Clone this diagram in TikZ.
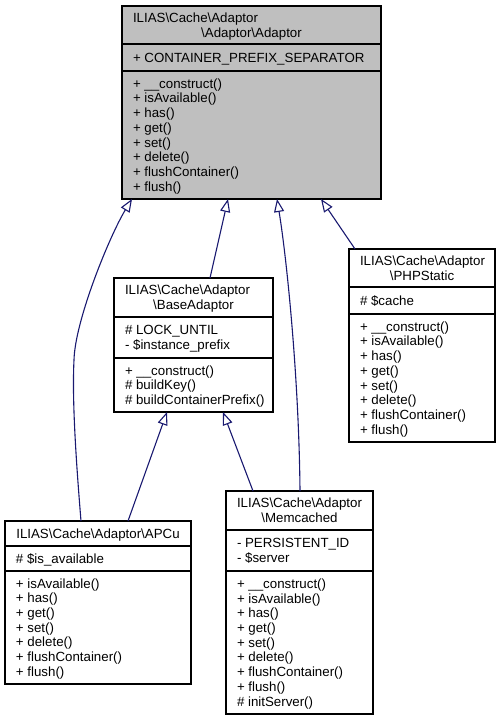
\documentclass[tikz,border=0pt]{standalone}
\usepackage{fontspec}
\setmainfont{Liberation Sans}
\usetikzlibrary{arrows.meta}
\definecolor{edgeblue}{HTML}{191970}
\definecolor{boxgray}{HTML}{BFBFBF}
\newcommand\fs{\fontsize{13.3}{14.7}\selectfont}
\newcommand\bs{\textbackslash}
\newcommand\st{\rule{0pt}{11pt}}
\begin{document}
\begin{tikzpicture}[x=1pt,y=-1pt,
 cls/.style={draw=black, line width=1.2pt, inner sep=0pt, outer sep=0pt, fill=white},
 lbl/.style={font=\fs, inner sep=0pt, outer sep=0pt, anchor=base west},
 ctr/.style={font=\fs, inner sep=0pt, outer sep=0pt, anchor=base},
 sec/.style={font=\fs, inner sep=0pt, outer sep=0pt, anchor=north west, align=left},
 sepline/.style={line width=1.2pt},
 inh/.style={draw=edgeblue, line width=1.1pt, -{Triangle[open, length=13pt, width=10pt, line width=1.1pt]}}
]
\useasboundingbox (0,0) rectangle (501,720);

% Adaptor
\node[cls, fill=boxgray, minimum width=259pt, minimum height=193pt] (ad) at (251.5,102.5) {};
\draw[sepline] (ad.west |- 0,44) -- (ad.east |- 0,44);
\draw[sepline] (ad.west |- 0,71) -- (ad.east |- 0,71);
\node[lbl] (ad-t1) at (133,22.35) {ILIAS\bs Cache\bs Adaptor};
\node[ctr] (ad-t2) at (251.5,37.05) {\bs Adaptor\bs Adaptor};
\node[lbl] (ad-a) at (133,62.2) {+ CONTAINER\_PREFIX\_SEPARATOR};
\node[sec] (ad-m) at (133,77.25) {\st+ \_\_construct()\\+ isAvailable()\\+ has()\\+ get()\\+ set()\\+ delete()\\+ flushContainer()\\+ flush()};

% PHPStatic
\node[cls, minimum width=146pt, minimum height=193pt] (php) at (422,345.5) {};
\draw[sepline] (php.west |- 0,287) -- (php.east |- 0,287);
\draw[sepline] (php.west |- 0,314) -- (php.east |- 0,314);
\node[lbl] (php-t1) at (360,265.35) {ILIAS\bs Cache\bs Adaptor};
\node[ctr] (php-t2) at (422,280.05) {\bs PHPStatic};
\node[lbl] (php-a) at (360,305.2) {\# \$cache};
\node[sec] (php-m) at (360,320.25) {\st+ \_\_construct()\\+ isAvailable()\\+ has()\\+ get()\\+ set()\\+ delete()\\+ flushContainer()\\+ flush()};

% BaseAdaptor
\node[cls, minimum width=159pt, minimum height=134pt] (base) at (193.5,345) {};
\draw[sepline] (base.west |- 0,317) -- (base.east |- 0,317);
\draw[sepline] (base.west |- 0,358) -- (base.east |- 0,358);
\node[lbl] (base-t1) at (125,294.85) {ILIAS\bs Cache\bs Adaptor};
\node[ctr] (base-t2) at (193.5,309.55) {\bs BaseAdaptor};
\node[sec] (base-a) at (125,323.85) {\st\# LOCK\_UNTIL\\- \$instance\_prefix};
\node[sec] (base-m) at (125,364) {\st+ \_\_construct()\\\# buildKey()\\\# buildContainerPrefix()};

% APCu
\node[cls, minimum width=186pt, minimum height=163pt] (apcu) at (98,602.5) {};
\draw[sepline] (apcu.west |- 0,546) -- (apcu.east |- 0,546);
\draw[sepline] (apcu.west |- 0,571) -- (apcu.east |- 0,571);
\node[ctr] (apcu-t1) at (98,538.2) {ILIAS\bs Cache\bs Adaptor\bs APCu};
\node[lbl] (apcu-a) at (16,563.2) {\# \$is\_available};
\node[sec] (apcu-m) at (16,577.1) {\st+ isAvailable()\\+ has()\\+ get()\\+ set()\\+ delete()\\+ flushContainer()\\+ flush()};

% Memcached
\node[cls, minimum width=147pt, minimum height=223pt] (mem) at (299.5,602.5) {};
\draw[sepline] (mem.west |- 0,530) -- (mem.east |- 0,530);
\draw[sepline] (mem.west |- 0,571) -- (mem.east |- 0,571);
\node[lbl] (mem-t1) at (237,507.85) {ILIAS\bs Cache\bs Adaptor};
\node[ctr] (mem-t2) at (299.5,522.55) {\bs Memcached};
\node[sec] (mem-a) at (237,536.85) {\st- PERSISTENT\_ID\\- \$server};
\node[sec] (mem-m) at (237,577.4) {\st+ \_\_construct()\\+ isAvailable()\\+ has()\\+ get()\\+ set()\\+ delete()\\+ flushContainer()\\+ flush()\\\# initServer()};

% inheritance
\draw[inh] ([xshift=76pt]apcu.north west) .. controls (76,460) and (72,400) .. (74,360) .. controls (75,320) and (110,235) .. ([xshift=10pt]ad.south west);
\draw[inh] ([xshift=96pt]base.north west) -- ([xshift=106pt]ad.south west);
\draw[inh] ([xshift=74pt]mem.north west) .. controls (299,380) and (287,260) .. ([xshift=155pt]ad.south west);
\draw[inh] ([xshift=6pt]php.north west) -- ([xshift=199pt]ad.south west);
\draw[inh] ([xshift=123pt]apcu.north west) -- ([xshift=53pt]base.south west);
\draw[inh] ([xshift=27pt]mem.north west) -- ([xshift=109pt]base.south west);
\end{tikzpicture}
\end{document}
